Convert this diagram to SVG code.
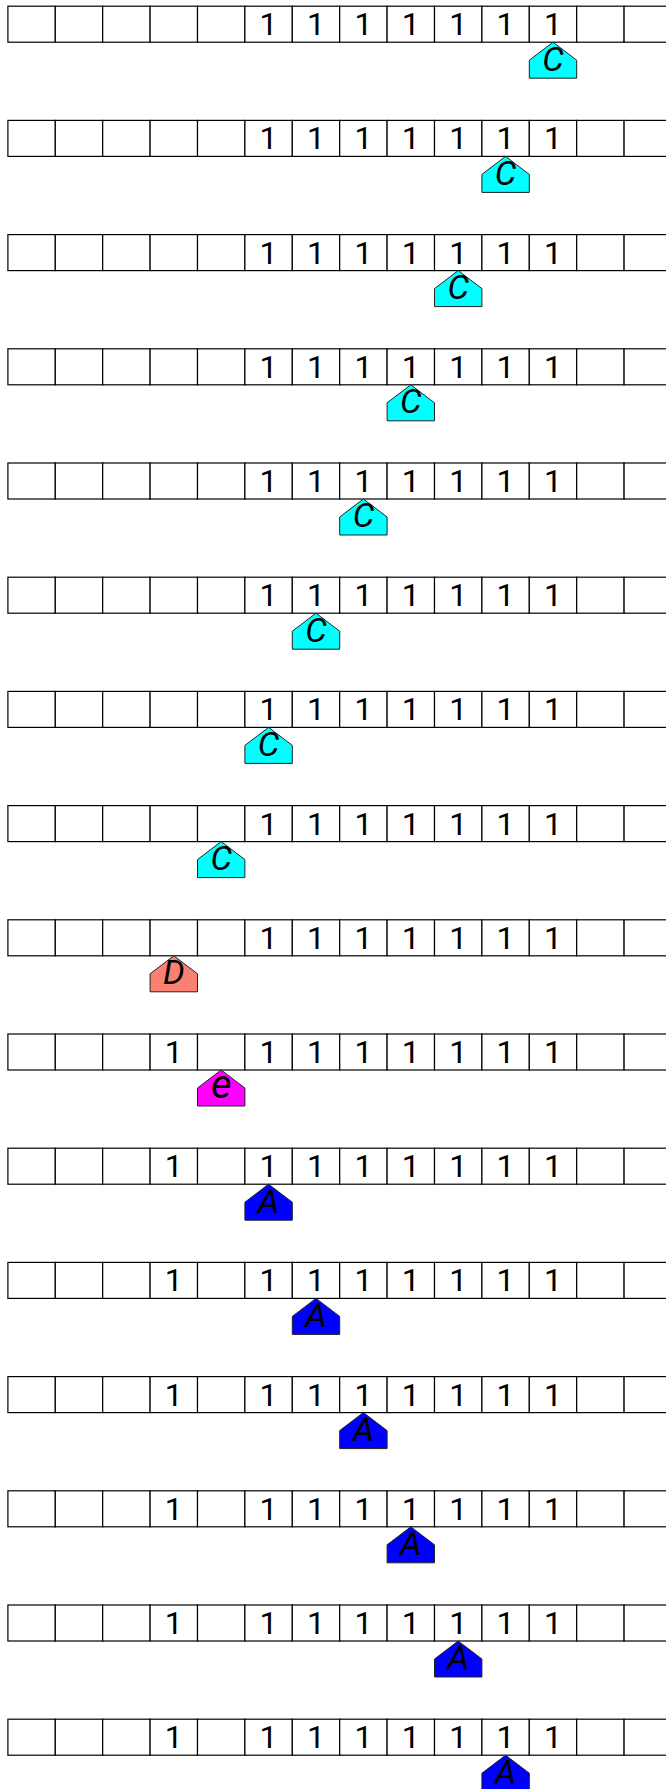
<svg xmlns="http://www.w3.org/2000/svg" width="666" height="1789" viewBox="0 0 666 1789" font-family="Roboto, 'Noto Sans', sans-serif" font-size="32">
<style>
.cell{fill:#fff;stroke:#000;stroke-width:1.2}
.hd{stroke:#222;stroke-width:1}
.c{fill:#00FFFF}.d{fill:#FA8072}.e{fill:#FF00FF}.a{fill:#0000FF}
</style>
<defs>
<g id="tape">
<rect class="cell" x="7.9" y="6.2" width="47.4" height="36"/>
<rect class="cell" x="55.3" y="6.2" width="47.4" height="36"/>
<rect class="cell" x="102.7" y="6.2" width="47.4" height="36"/>
<rect class="cell" x="150.1" y="6.2" width="47.4" height="36"/>
<rect class="cell" x="197.5" y="6.2" width="47.4" height="36"/>
<rect class="cell" x="244.9" y="6.2" width="47.4" height="36"/>
<rect class="cell" x="292.3" y="6.2" width="47.4" height="36"/>
<rect class="cell" x="339.7" y="6.2" width="47.4" height="36"/>
<rect class="cell" x="387.1" y="6.2" width="47.4" height="36"/>
<rect class="cell" x="434.5" y="6.2" width="47.4" height="36"/>
<rect class="cell" x="481.9" y="6.2" width="47.4" height="36"/>
<rect class="cell" x="529.3" y="6.2" width="47.4" height="36"/>
<rect class="cell" x="576.7" y="6.2" width="47.4" height="36"/>
<rect class="cell" x="624.1" y="6.2" width="47.4" height="36"/>
</g>
<g id="ones" font-family="Roboto, 'Noto Sans', sans-serif" font-size="32" text-anchor="middle" fill="#000">
<text x="268.6" y="35.2">1</text>
<text x="316" y="35.2">1</text>
<text x="363.4" y="35.2">1</text>
<text x="410.8" y="35.2">1</text>
<text x="458.2" y="35.2">1</text>
<text x="505.6" y="35.2">1</text>
<text x="553" y="35.2">1</text>
</g>
<path id="head" class="hd" d="M0,0 L23.7,18 L23.7,36 L-23.7,36 L-23.7,18 Z"/>
</defs>

<g id="connectors"></g>

<g id="tapes" font-family="Roboto, 'Noto Sans', sans-serif" font-size="32" text-anchor="middle" fill="#000">
<g id="row-1" transform="translate(0,0)"><use href="#tape"/><use href="#ones"/></g>
<g id="row-2" transform="translate(0,114.2)"><use href="#tape"/><use href="#ones"/></g>
<g id="row-3" transform="translate(0,228.4)"><use href="#tape"/><use href="#ones"/></g>
<g id="row-4" transform="translate(0,342.6)"><use href="#tape"/><use href="#ones"/></g>
<g id="row-5" transform="translate(0,456.8)"><use href="#tape"/><use href="#ones"/></g>
<g id="row-6" transform="translate(0,571)"><use href="#tape"/><use href="#ones"/></g>
<g id="row-7" transform="translate(0,685.2)"><use href="#tape"/><use href="#ones"/></g>
<g id="row-8" transform="translate(0,799.4)"><use href="#tape"/><use href="#ones"/></g>
<g id="row-9" transform="translate(0,913.6)"><use href="#tape"/><use href="#ones"/></g>
<g id="row-10" transform="translate(0,1027.8)"><use href="#tape"/><use href="#ones"/><text x="173.8" y="35.2">1</text></g>
<g id="row-11" transform="translate(0,1142)"><use href="#tape"/><use href="#ones"/><text x="173.8" y="35.2">1</text></g>
<g id="row-12" transform="translate(0,1256.2)"><use href="#tape"/><use href="#ones"/><text x="173.8" y="35.2">1</text></g>
<g id="row-13" transform="translate(0,1370.4)"><use href="#tape"/><use href="#ones"/><text x="173.8" y="35.2">1</text></g>
<g id="row-14" transform="translate(0,1484.6)"><use href="#tape"/><use href="#ones"/><text x="173.8" y="35.2">1</text></g>
<g id="row-15" transform="translate(0,1598.8)"><use href="#tape"/><use href="#ones"/><text x="173.8" y="35.2">1</text></g>
<g id="row-16" transform="translate(0,1713)"><use href="#tape"/><use href="#ones"/><text x="173.8" y="35.2">1</text></g>
</g>

<g id="heads" font-family="Roboto, 'Noto Sans', sans-serif" font-size="34" font-style="italic" text-anchor="middle" fill="#000">
<g id="head-1" transform="translate(553,42.2)"><use href="#head" class="c"/><text y="28.3">C</text></g>
<g id="head-2" transform="translate(505.6,156.4)"><use href="#head" class="c"/><text y="28.3">C</text></g>
<g id="head-3" transform="translate(458.2,270.6)"><use href="#head" class="c"/><text y="28.3">C</text></g>
<g id="head-4" transform="translate(410.8,384.8)"><use href="#head" class="c"/><text y="28.3">C</text></g>
<g id="head-5" transform="translate(363.4,499)"><use href="#head" class="c"/><text y="28.3">C</text></g>
<g id="head-6" transform="translate(316,613.2)"><use href="#head" class="c"/><text y="28.3">C</text></g>
<g id="head-7" transform="translate(268.6,727.4)"><use href="#head" class="c"/><text y="28.3">C</text></g>
<g id="head-8" transform="translate(221.2,841.6)"><use href="#head" class="c"/><text y="28.3">C</text></g>
<g id="head-9" transform="translate(173.8,955.8)"><use href="#head" class="d"/><text y="28.3">D</text></g>
<g id="head-10" transform="translate(221.2,1070)"><use href="#head" class="e"/><text y="28.3" font-size="40">e</text></g>
<g id="head-11" transform="translate(268.6,1184.2)"><use href="#head" class="a"/><text y="28.3">A</text></g>
<g id="head-12" transform="translate(316,1298.4)"><use href="#head" class="a"/><text y="28.3">A</text></g>
<g id="head-13" transform="translate(363.4,1412.6)"><use href="#head" class="a"/><text y="28.3">A</text></g>
<g id="head-14" transform="translate(410.8,1526.8)"><use href="#head" class="a"/><text y="28.3">A</text></g>
<g id="head-15" transform="translate(458.2,1641)"><use href="#head" class="a"/><text y="28.3">A</text></g>
<g id="head-16" transform="translate(505.6,1755.2)"><use href="#head" class="a"/><text y="28.3">A</text></g>
</g>
</svg>
